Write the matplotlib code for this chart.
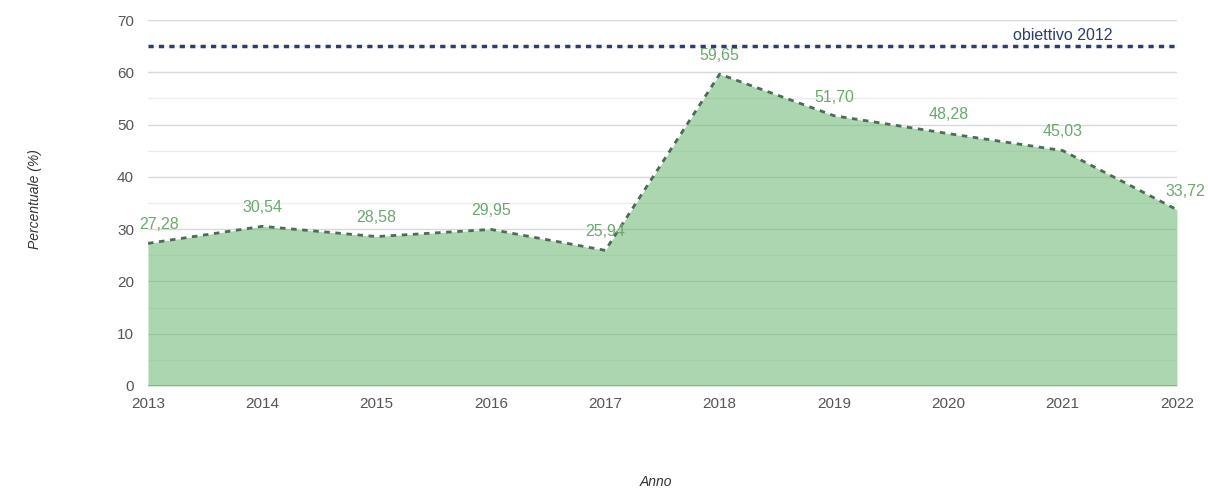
import matplotlib
matplotlib.use("Agg")
import matplotlib.pyplot as plt
import numpy as np

plt.rcParams['font.family'] = ['Liberation Sans', 'DejaVu Sans']

# dati
anni = [2013, 2014, 2015, 2016, 2017, 2018, 2019, 2020, 2021, 2022]
percentuali = [27.28, 30.54, 28.58, 29.95, 25.94, 59.65, 51.70, 48.28, 45.03, 33.72]
obiettivo = 65
obiettivo_label = "obiettivo 2012"

fill_color = '#75bb7b'
line_color = '#4d6b57'
label_color = '#6aa96e'
target_color = '#2c3e6b'

fig = plt.figure(figsize=(12.08, 4.98), dpi=100)
ax = fig.add_axes([0.1225, 0.2249, 0.8518, 0.7349])

x = np.arange(len(anni))
ax.fill_between(x, 0, percentuali, color=fill_color, alpha=0.6, linewidth=0, zorder=3)
ax.plot(x, percentuali, color=line_color, linestyle=(0, (2, 2)), linewidth=2, zorder=4)

# linea obiettivo
ax.axhline(obiettivo, color=target_color, linestyle=(0, (1.5, 1.5)), linewidth=2.5, zorder=4)
ax.text(len(anni) - 2.0, obiettivo + 0.6, obiettivo_label, color=target_color,
        fontsize=11.5, ha='center', va='bottom', zorder=5)

# etichette valori
offsets = {0: (8, 8), 9: (6, 8)}
for i, v in enumerate(percentuali):
    dx, dy = offsets.get(i, (0, 8))
    ax.annotate(f"{v:.2f}".replace('.', ','), (x[i], v), xytext=(dx, dy),
                textcoords='offset points', ha='center', va='bottom',
                color=label_color, fontsize=11.5, zorder=6)

ax.set_xlim(0, len(anni) - 1)
ax.set_ylim(0, 70)
ax.set_yticks(np.arange(0, 71, 10))
ax.set_yticks(np.arange(5, 70, 10), minor=True)
ax.set_xticks(x)
ax.set_xticklabels([str(a) for a in anni])

ax.grid(axis='y', which='major', color='#d8d8d8', linewidth=1, zorder=1)
ax.grid(axis='y', which='minor', color='#ececec', linewidth=1, zorder=1)
ax.set_axisbelow(True)
ax.axhline(0, color='#999999', linewidth=1.2, zorder=4)

for s in ax.spines.values():
    s.set_visible(False)
ax.tick_params(axis='both', which='both', length=0, colors='#555555', labelsize=11)
ax.tick_params(axis='x', pad=8)
ax.tick_params(axis='y', pad=10)

fig.text(0.029, 0.60, 'Percentuale (%)', rotation=90, ha='center', va='center',
         fontsize=10, color='#333333', style='italic')
fig.text(0.543, 0.018, 'Anno', ha='center', va='bottom', fontsize=10,
         color='#333333', style='italic')

fig.savefig('out.png', dpi=100)
